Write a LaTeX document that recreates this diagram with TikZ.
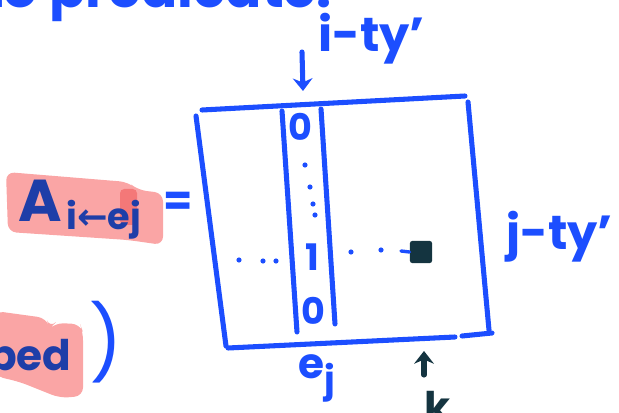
\documentclass[tikz,border=0pt]{standalone}
\usepackage{fontspec}
\setmainfont{Poppins}
\newfontfamily\arrowfont{DejaVu Sans}
\usetikzlibrary{arrows.meta}
\definecolor{penblue}{RGB}{28,78,255}
\definecolor{inkblue}{RGB}{30,62,168}
\definecolor{inkdark}{RGB}{20,52,64}
\definecolor{marker}{RGB}{250,165,165}
\definecolor{markerdark}{RGB}{244,120,120}

\begin{document}
\begin{tikzpicture}[x=0.025cm,y=-0.025cm]
			\tikzset{pen/.style={draw=penblue,line width=3.6pt,line cap=round,line join=round}}
			\tikzset{arrow/.style={pen,-{Stealth[length=9pt,width=14pt]}}}
			\tikzset{ink/.style={inner sep=0pt,text=penblue}}
			\tikzset{big/.style={font=\fontsize{30}{30}\selectfont\bfseries}}
			\tikzset{small/.style={font=\fontsize{26}{26}\selectfont\bfseries}}
			\tikzset{label/.style={font=\fontsize{34}{34}\selectfont\bfseries}}

			\clip (0,0) rectangle (619,413);

			% highlighter
			\fill[marker,rounded corners=6pt] (6,172) -- (128,182) -- (138,190) -- (163,193) -- (163,245) -- (128,240) -- (8,232) -- cycle;
			\fill[markerdark,rounded corners=3pt] (120,189) rectangle (137,225);
			\fill[marker,rounded corners=6pt] (-5,311) -- (46,318) -- (50,328) -- (55,323) -- (80,324) -- (83,332) -- (83,396) -- (60,398) -- (20,382) -- (-5,376) -- cycle;

			\node[ink,anchor=base west,font=\fontsize{38}{38}\selectfont\bfseries] (title) at (-18,8) {to predicate:};

			\node[ink,text=inkblue,anchor=base,font=\fontsize{42}{42}\selectfont\bfseries] (A) at (40,222) {A};
			\node[ink,text=inkblue,anchor=base west,small] (Asub) at (66,230) {i{\arrowfont ←}ej};
			\node[ink,big] (eq) at (178,204) {=};

			\node[ink,text=inkblue,anchor=base west,big] (ped) at (-12,370) {ped};
			\node[ink,font=\fontsize{52}{52}\selectfont] (paren) at (106,342) {)};

			% matrix frame
			\coordinate (tl) at (202,110);
			\coordinate (tr) at (465,96);
			\coordinate (rt) at (468,102);
			\coordinate (rb) at (489,330);
			\coordinate (lt) at (196,116);
			\coordinate (lb) at (226,346);
			\coordinate (bl) at (228,348);
			\coordinate (br) at (455,337);
			\coordinate (bx) at (462,336);
			\coordinate (by) at (492,333);

			\draw[pen] (tl) -- (tr);
			\draw[pen] (rt) -- (rb);
			\draw[pen] (lt) -- (lb);
			\draw[pen] (bl) -- (br);
			\draw[pen] (bx) -- (by);

			% column e_j
			\coordinate (cl1) at (282,111);
			\coordinate (cl2) at (297,332);
			\coordinate (cr1) at (321,109);
			\coordinate (cr2) at (335,324);
			\draw[pen] (cl1) -- (cl2);
			\draw[pen] (cr1) -- (cr2);

			\node[ink,small] (top0) at (300,127) {0};
			\node[ink,small] (one) at (312,257) {1};
			\node[ink,small] (bot0) at (313,311) {0};

			\fill[penblue] (305,165) circle (2.6);
			\fill[penblue] (310,187) circle (2.6);
			\fill[penblue] (313,204) circle (2.6);
			\fill[penblue] (315,215) circle (2.6);
			\fill[penblue] (239,260) circle (2.6);
			\fill[penblue] (263,261) circle (2.6);
			\fill[penblue] (276,261) circle (2.6);
			\fill[penblue] (351,252) circle (2.6);
			\fill[penblue] (381,250) circle (2.6);

			\node[fill=inkdark,minimum size=0.56cm,inner sep=0pt,rounded corners=2pt] (entry) at (421,252) {};
			\coordinate (stub) at (401,251);
			\draw[pen,line width=2.4pt] (stub) -- (entry.west);

			% row / column labels
			\node[ink,anchor=base west,label] (rowlab) at (318,52) {i-ty'};
			\coordinate (rowtail) at (302,52);
			\coordinate (rowtip) at (303,91);
			\draw[arrow] (rowtail) -- (rowtip);

			\node[ink,anchor=base west,label] (collab) at (506,250) {j-ty'};

			\node[ink,anchor=base west,big] (ej) at (298,378) {e\raisebox{-0.35em}{\fontsize{26}{26}\selectfont\bfseries j}};

			\node[ink,text=inkdark,anchor=base,big] (k) at (438,422) {k};
			\coordinate (ktail) at (424,375);
			\coordinate (ktip) at (424,351);
			\draw[arrow,draw=inkdark] (ktail) -- (ktip);
		\end{tikzpicture}
\end{document}
